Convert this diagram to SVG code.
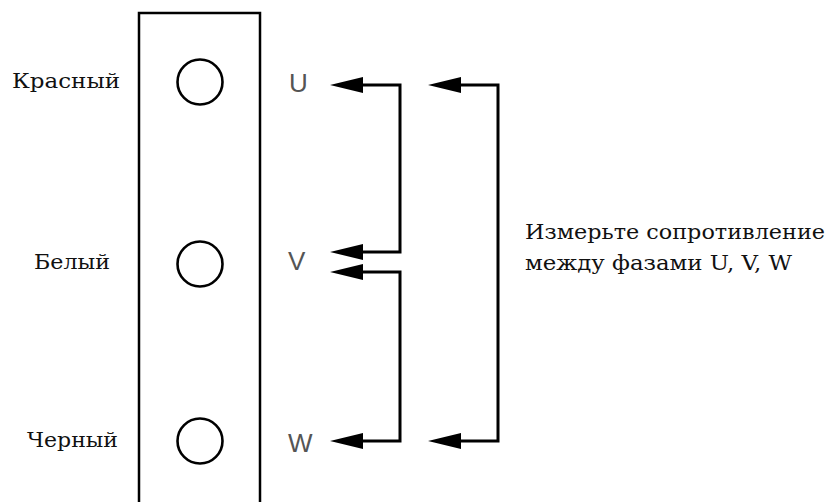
<svg xmlns="http://www.w3.org/2000/svg" xmlns:xlink="http://www.w3.org/1999/xlink" width="830" height="502" viewBox="0 0 830 502">
<style>
.lbl{font-family:"DejaVu Serif","Liberation Serif",serif;font-size:20.5px;fill:#111}
.ph{font-family:"Liberation Sans",Arial,sans-serif;font-size:26px;fill:#555}
.wire{fill:none;stroke:#000;stroke-width:3}
.box{fill:none;stroke:#000;stroke-width:2.5}
.term{fill:#fff;stroke:#000;stroke-width:2.6}
</style>
<defs>
<polygon id="ah" points="0,0 33,-8 33,8" fill="#000"/>
</defs>
<rect width="830" height="502" fill="#fff"/>
<g id="panel">
<rect class="box" x="139" y="13" width="121" height="500"/>
</g>
<g id="red">
<circle class="term" cx="200" cy="82" r="22.5"/>
<text class="lbl" x="12" y="88" textLength="108" lengthAdjust="spacingAndGlyphs">Красный</text>
<text class="ph" x="289" y="92">U</text>
</g>
<g id="white">
<circle class="term" cx="200" cy="264" r="22.5"/>
<text class="lbl" x="34" y="269" textLength="76" lengthAdjust="spacingAndGlyphs">Белый</text>
<text class="ph" x="288" y="270">V</text>
</g>
<g id="black">
<circle class="term" cx="200" cy="441" r="22.5"/>
<text class="lbl" x="27" y="447" textLength="91" lengthAdjust="spacingAndGlyphs">Черный</text>
<text class="ph" x="288" y="452">W</text>
</g>
<g id="note">
<text class="lbl" x="525" y="239" textLength="300" lengthAdjust="spacingAndGlyphs">Измерьте сопротивление</text>
<text class="lbl" x="525" y="270" textLength="267" lengthAdjust="spacingAndGlyphs">между фазами U, V, W</text>
</g>
<g id="connectors">
<polyline class="wire" points="360,85 400,85 400,252 360,252"/>
<polyline class="wire" points="360,272 400,272 400,441 360,441"/>
<polyline class="wire" points="456,85 498,85 498,441 456,441"/>
<use xlink:href="#ah" x="330" y="85"/>
<use xlink:href="#ah" x="330" y="252"/>
<use xlink:href="#ah" x="330" y="272"/>
<use xlink:href="#ah" x="330" y="441"/>
<use xlink:href="#ah" x="428" y="85"/>
<use xlink:href="#ah" x="428" y="441"/>
</g>
</svg>
